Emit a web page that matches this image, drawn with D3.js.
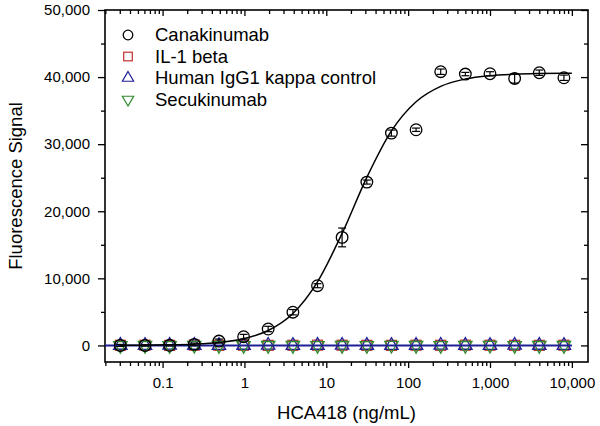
<!DOCTYPE html>
<html>
<head>
<meta charset="utf-8">
<script src="https://cdn.jsdelivr.net/npm/d3@7"></script>
<style>
  body { margin: 0; background: #fff; }
  svg { font-family: "Liberation Sans", Arial, sans-serif; }
</style>
</head>
<body>
<div id="chart"></div>
<script>
// Concentrations (ng/mL), 2-fold dilution series
const conc = [0.0305, 0.061, 0.122, 0.244, 0.488, 0.977, 1.95, 3.91, 7.81, 15.6,
              31.3, 62.5, 125, 250, 500, 1000, 2000, 4000, 8000];

// Canakinumab mean signal and error
const canakinumab = [0, 0, 20, 150, 650, 1300, 2450, 4950, 8900, 16100,
                     24350, 31650, 32150, 40800, 40450, 40500, 39800, 40650, 39900];
const canakinumabErr = [150, 100, 100, 200, 300, 350, 400, 400, 300, 1400,
                        300, 450, 250, 400, 250, 300, 700, 400, 400];

// Controls, all near zero
const il1beta =   [20, 30, 10, 40, 20, 30, 10, 20, 40, 30, 20, 10, 30, 20, 40, 30, 20, 10, 30];
const humanIgG1 = [10, 0, 20, 10, 0, 10, 20, 0, 10, 20, 10, 0, 10, 20, 10, 0, 20, 10, 0];
const secukinumab = [0, 10, 0, 20, 10, 0, 10, 10, 0, 10, 0, 20, 10, 0, 10, 20, 0, 10, 10];

// Fitted curve for Canakinumab
const fitConc = [0.0305, 0.061, 0.122, 0.244, 0.488, 0.977, 1.95, 3.91, 7.81, 15.6,
                 31.3, 62.5, 125, 250, 500, 1000, 2000, 4000, 8000, 10000];
const fitSignal = [16, 37, 84, 193, 440, 1000, 2220, 4760, 9480, 16700,
                   25050, 31970, 36320, 38620, 39710, 40210, 40430, 40525, 40568, 40572];

// Control fit (flat line)
const ctrlFitConc = [0.0198, 10000];
const ctrlFitSignal = [0, 0];

const xTicks = [0.1, 1, 10, 100, 1000, 10000];
const yTicks = [0, 10000, 20000, 30000, 40000, 50000];
const legendLabels = ["Canakinumab", "IL-1 beta", "Human IgG1 kappa control", "Secukinumab"];

const W = 600, H = 426;
const margin = { top: 10, right: 12, bottom: 64, left: 105 };
const width = W - margin.left - margin.right;
const height = H - margin.top - margin.bottom;

const RED = "#c0302c", BLUE = "#1e1e96", GREEN = "#2e8b2e";

const svg = d3.select("#chart").append("svg")
    .attr("width", W)
    .attr("height", H);

const g = svg.append("g")
    .attr("transform", `translate(${margin.left},${margin.top})`);

const x = d3.scaleLog()
    .domain([0.0198, 15750])
    .range([0, width]);

const y = d3.scaleLinear()
    .domain([-2470, 50000])
    .range([height, 0]);

// minor tick values
const xMinor = [];
for (let e = -2; e <= 4; e++) {
    for (let m = 2; m <= 9; m++) {
        const v = m * Math.pow(10, e);
        if (v >= x.domain()[0] && v <= x.domain()[1]) xMinor.push(v);
    }
}
const yMinor = [5000, 15000, 25000, 35000, 45000];

function styleAxis(sel) {
    sel.select(".domain").remove();
    sel.selectAll("line").attr("stroke", "#000").attr("stroke-width", 1.3);
    sel.selectAll("text").attr("fill", "#000");
}

// Bottom axis
g.append("g")
    .attr("transform", `translate(0,${height})`)
    .call(d3.axisBottom(x).tickValues(xTicks).tickSize(6).tickPadding(9)
        .tickFormat(d3.format(",")))
    .call(styleAxis)
    .selectAll("text").style("font-size", "15px");
g.append("g")
    .attr("transform", `translate(0,${height})`)
    .call(d3.axisBottom(x).tickValues(xMinor).tickSize(4).tickFormat(""))
    .call(styleAxis);

// Top axis (ticks inward)
g.append("g")
    .call(d3.axisBottom(x).tickValues(xTicks).tickSize(6).tickFormat(""))
    .call(styleAxis);
g.append("g")
    .call(d3.axisBottom(x).tickValues(xMinor).tickSize(4).tickFormat(""))
    .call(styleAxis);

// Left axis
g.append("g")
    .call(d3.axisLeft(y).tickValues(yTicks).tickSize(7).tickPadding(8)
        .tickFormat(d3.format(",")))
    .call(styleAxis)
    .selectAll("text").style("font-size", "15px");
g.append("g")
    .call(d3.axisLeft(y).tickValues(yMinor).tickSize(4).tickFormat(""))
    .call(styleAxis);

// Right axis (ticks inward)
g.append("g")
    .attr("transform", `translate(${width},0)`)
    .call(d3.axisLeft(y).tickValues(yTicks).tickSize(7).tickFormat(""))
    .call(styleAxis);
g.append("g")
    .attr("transform", `translate(${width},0)`)
    .call(d3.axisLeft(y).tickValues(yMinor).tickSize(4).tickFormat(""))
    .call(styleAxis);

// Frame
g.append("rect")
    .attr("width", width)
    .attr("height", height)
    .attr("fill", "none")
    .attr("stroke", "#000")
    .attr("stroke-width", 1.6);

// Axis titles
svg.append("text")
    .attr("x", margin.left + width / 2)
    .attr("y", 419)
    .attr("text-anchor", "middle")
    .style("font-size", "18.5px")
    .text("HCA418 (ng/mL)");

svg.append("text")
    .attr("transform", `translate(22,${margin.top + height / 2}) rotate(-90)`)
    .attr("text-anchor", "middle")
    .style("font-size", "18.5px")
    .text("Fluorescence Signal");

const line = d3.line()
    .x(d => x(d[0]))
    .y(d => y(d[1]))
    .curve(d3.curveMonotoneX);

// Markers for controls
const triUp = d3.symbol().type(d3.symbolTriangle).size(78);

g.append("g").selectAll("rect")
    .data(d3.zip(conc, il1beta))
    .enter().append("rect")
    .attr("x", d => x(d[0]) - 5)
    .attr("y", d => y(d[1]) - 5)
    .attr("width", 10)
    .attr("height", 10)
    .attr("fill", "none")
    .attr("stroke", RED)
    .attr("stroke-width", 1.2);

g.append("g").selectAll("path")
    .data(d3.zip(conc, humanIgG1))
    .enter().append("path")
    .attr("d", triUp)
    .attr("transform", d => `translate(${x(d[0])},${y(d[1])})`)
    .attr("fill", "none")
    .attr("stroke", BLUE)
    .attr("stroke-width", 1.3);

g.append("g").selectAll("path")
    .data(d3.zip(conc, secukinumab))
    .enter().append("path")
    .attr("d", triUp)
    .attr("transform", d => `translate(${x(d[0])},${y(d[1])}) rotate(180)`)
    .attr("fill", "none")
    .attr("stroke", GREEN)
    .attr("stroke-width", 1.3);

// Control fit line
g.append("path")
    .datum(d3.zip(ctrlFitConc, ctrlFitSignal))
    .attr("d", line)
    .attr("fill", "none")
    .attr("stroke", BLUE)
    .attr("stroke-width", 2);

// Canakinumab fit curve
g.append("path")
    .datum(d3.zip(fitConc, fitSignal))
    .attr("d", line)
    .attr("fill", "none")
    .attr("stroke", "#000")
    .attr("stroke-width", 1.5);

// Error bars
const canData = conc.map((c, i) => ({ c, v: canakinumab[i], e: canakinumabErr[i] }));
const eb = g.append("g").attr("stroke", "#000").attr("stroke-width", 1.2);
eb.selectAll(".v").data(canData).enter().append("line")
    .attr("x1", d => x(d.c)).attr("x2", d => x(d.c))
    .attr("y1", d => y(d.v - d.e)).attr("y2", d => y(d.v + d.e));
eb.selectAll(".t").data(canData).enter().append("line")
    .attr("x1", d => x(d.c) - 4).attr("x2", d => x(d.c) + 4)
    .attr("y1", d => y(d.v + d.e)).attr("y2", d => y(d.v + d.e));
eb.selectAll(".b").data(canData).enter().append("line")
    .attr("x1", d => x(d.c) - 4).attr("x2", d => x(d.c) + 4)
    .attr("y1", d => y(d.v - d.e)).attr("y2", d => y(d.v - d.e));

// Canakinumab circles
g.append("g").selectAll("circle")
    .data(canData)
    .enter().append("circle")
    .attr("cx", d => x(d.c))
    .attr("cy", d => y(d.v))
    .attr("r", 5.8)
    .attr("fill", "none")
    .attr("stroke", "#000")
    .attr("stroke-width", 1.3);

// Legend
const legend = svg.append("g").attr("transform", "translate(128,35)");
const rowH = 21.5;
legendLabels.forEach((label, i) => {
    const row = legend.append("g").attr("transform", `translate(0,${i * rowH})`);
    if (i === 0) {
        row.append("circle").attr("r", 4.8).attr("fill", "none")
            .attr("stroke", "#000").attr("stroke-width", 1.3);
    } else if (i === 1) {
        row.append("rect").attr("x", -4.3).attr("y", -4.3).attr("width", 8.6).attr("height", 8.6)
            .attr("fill", "none").attr("stroke", RED).attr("stroke-width", 1.2);
    } else {
        row.append("path").attr("d", d3.symbol().type(d3.symbolTriangle).size(55))
            .attr("transform", i === 3 ? "rotate(180)" : null)
            .attr("fill", "none")
            .attr("stroke", i === 2 ? BLUE : GREEN)
            .attr("stroke-width", 1.2);
    }
    row.append("text")
        .attr("x", 27)
        .attr("dy", "0.35em")
        .style("font-size", "18.5px")
        .text(label);
});
</script>
</body>
</html>
